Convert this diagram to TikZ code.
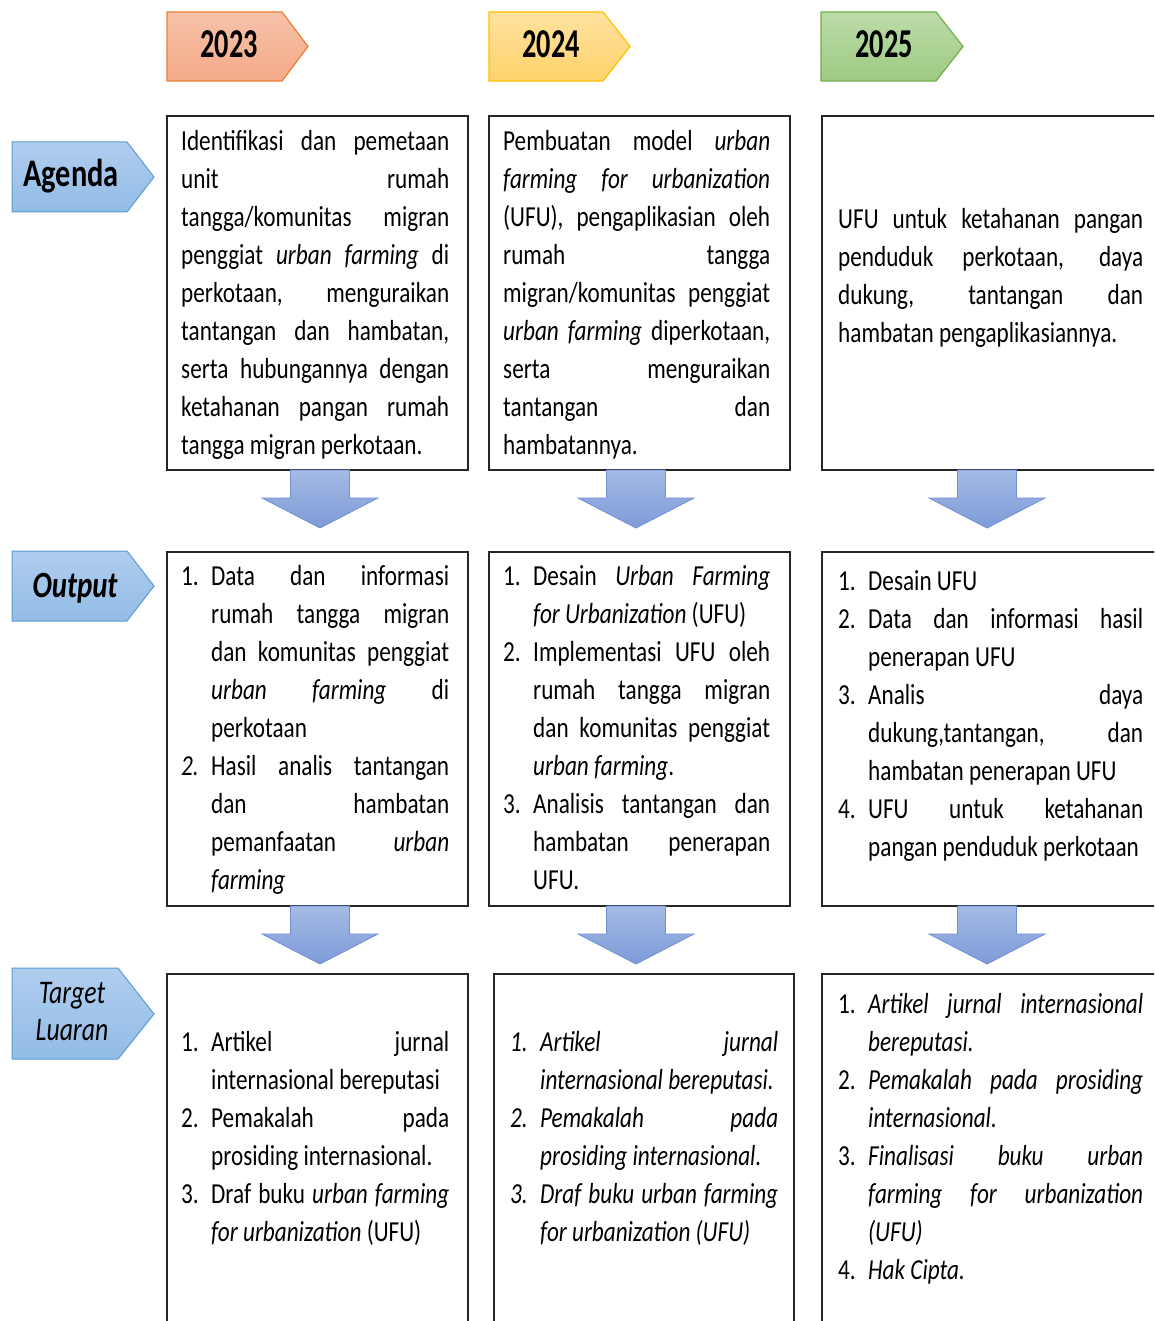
\documentclass[tikz,border=0pt]{standalone}
\usepackage{fontspec}
\setmainfont{Carlito}[FakeStretch=0.8]
\newfontfamily\yearfont{Carlito}[FakeStretch=0.69]
\newfontfamily\lblfont{Carlito}[FakeStretch=0.78]
\usetikzlibrary{calc}
\definecolor{oTop}{HTML}{F7C3AA}\definecolor{oBot}{HTML}{F4A987}\definecolor{oBrd}{HTML}{ED7D31}
\definecolor{yTop}{HTML}{FFE29F}\definecolor{yBot}{HTML}{FFD36B}\definecolor{yBrd}{HTML}{FFC000}
\definecolor{gTop}{HTML}{BCDBA9}\definecolor{gBot}{HTML}{9DCB83}\definecolor{gBrd}{HTML}{70AD47}
\definecolor{bTop}{HTML}{B0CDEE}\definecolor{bBot}{HTML}{92BCE6}\definecolor{bBrd}{HTML}{5B9BD5}
\definecolor{aTop}{HTML}{A5BBE6}\definecolor{aBot}{HTML}{7D9BD8}\definecolor{aBrd}{HTML}{6F90D2}
\definecolor{boxc}{HTML}{262626}
\newcommand\itm[2]{\noindent\hangindent=30pt\hangafter=1\makebox[30pt][l]{#1}#2\par}
\newcommand\blkarrow[2]{%
  \draw[arrowblk] (#1-29.5,#2) -- (#1+29.5,#2) -- (#1+29.5,#2+28) -- (#1+58,#2+28)
    -- (#1,#2+58) -- (#1-58,#2+28) -- (#1-29.5,#2+28) -- cycle;}
\begin{document}
\begin{tikzpicture}[x=1pt,y=-1pt,
  box/.style={draw=boxc, line width=1.6pt, fill=white, inner sep=0pt, anchor=north west},
  txt/.style={anchor=base west, inner sep=0pt, align=justify,
    font={\fontsize{29}{38}\selectfont\tolerance=10000\hbadness=10000\hyphenpenalty=10000\exhyphenpenalty=10000}},
  arrowblk/.style={draw=aBrd, line width=0.8pt, top color=aTop, bottom color=aBot},
  yearshape/.style={line width=1.2pt},
  lblshape/.style={draw=bBrd, line width=1pt, top color=bTop, bottom color=bBot},
  yeartxt/.style={anchor=base, inner sep=0pt, font={\yearfont\bfseries\fontsize{41}{41}\selectfont}},
]
\useasboundingbox (0,0) rectangle (1154,1321);
\clip (0,0) rectangle (1154,1321);
\fill[white] (0,0) rectangle (1154,1321);

% year headers
\draw[yearshape, draw=oBrd, top color=oTop, bottom color=oBot]
  (167,12) -- (282,12) -- (308,46.5) -- (282,81) -- (167,81) -- cycle;
\node[yeartxt] (y23) at (229,58) {2023};
\draw[yearshape, draw=yBrd, top color=yTop, bottom color=yBot]
  (489,12) -- (603,12) -- (630,46.5) -- (603,81) -- (489,81) -- cycle;
\node[yeartxt] (y24) at (551,58) {2024};
\draw[yearshape, draw=gBrd, top color=gTop, bottom color=gBot]
  (821,12) -- (936,12) -- (963,46.5) -- (936,81) -- (821,81) -- cycle;
\node[yeartxt] (y25) at (884,58) {2025};

% row labels
\draw[lblshape] (12,142) -- (127,142) -- (154,177) -- (127,212) -- (12,212) -- cycle;
\node[anchor=base, inner sep=0pt, font={\lblfont\bfseries\fontsize{39}{39}\selectfont}] (lagenda) at (71,187) {Agenda};
\draw[lblshape] (12,551) -- (127,551) -- (154,586) -- (127,621) -- (12,621) -- cycle;
\node[anchor=base, inner sep=0pt, font={\lblfont\bfseries\itshape\fontsize{37}{37}\selectfont}] (loutput) at (75,597) {Output};
\draw[lblshape] (12,968) -- (118,968) -- (154,1014) -- (118,1059) -- (12,1059) -- cycle;
\node[anchor=base, inner sep=0pt, text width=120pt, align=center, font={\lblfont\itshape\fontsize{33}{37}\selectfont}] (ltarget) at (72,1003) {Target\\Luaran};

% boxes
\node[box, minimum width=301pt, minimum height=354pt] (b11) at (166,115) {};
\node[box, minimum width=301pt, minimum height=354pt] (b12) at (488,115) {};
\node[box, minimum width=345pt, minimum height=354pt] (b13) at (821,115) {};
\node[box, minimum width=301pt, minimum height=354pt] (b21) at (166,551) {};
\node[box, minimum width=301pt, minimum height=354pt] (b22) at (488,551) {};
\node[box, minimum width=345pt, minimum height=354pt] (b23) at (821,551) {};
\node[box, minimum width=301pt, minimum height=360pt] (b31) at (166,973) {};
\node[box, minimum width=300pt, minimum height=360pt] (b32) at (493,973) {};
\node[box, minimum width=345pt, minimum height=360pt] (b33) at (821,973) {};

% block arrows
\blkarrow{320}{470}
\blkarrow{636}{470}
\blkarrow{987}{470}
\blkarrow{320}{906}
\blkarrow{636}{906}
\blkarrow{987}{906}

% row 1 texts
\node[txt, text width=268pt] (t11) at (181,151) {Identifikasi dan pemetaan\linebreak
unit rumah\linebreak
tangga/komunitas migran\linebreak
penggiat \textit{urban farming} di\linebreak
perkotaan, menguraikan\linebreak
tantangan dan hambatan,\linebreak
serta hubungannya dengan\linebreak
ketahanan pangan rumah\linebreak
tangga migran perkotaan.};

\node[txt, text width=267pt] (t12) at (503,151) {Pembuatan model \textit{urban}\linebreak
\textit{farming for urbanization}\linebreak
(UFU), pengaplikasian oleh\linebreak
rumah tangga\linebreak
migran/komunitas penggiat\linebreak
\textit{urban farming} diperkotaan,\linebreak
serta menguraikan\linebreak
tantangan dan\linebreak
hambatannya.};

\node[txt, text width=305pt] (t13) at (838,229) {UFU untuk ketahanan pangan\linebreak
penduduk perkotaan, daya\linebreak
dukung, tantangan dan\linebreak
hambatan pengaplikasiannya.};

% row 2 texts
\node[txt, text width=268pt] (t21) at (181,585) {%
\itm{1.}{Data dan informasi\linebreak rumah tangga migran\linebreak dan komunitas penggiat\linebreak \textit{urban farming} di\linebreak perkotaan}%
\itm{\textit{2.}}{Hasil analis tantangan\linebreak dan hambatan\linebreak pemanfaatan \textit{urban}\linebreak \textit{farming}}};

\node[txt, text width=267pt] (t22) at (503,585) {%
\itm{1.}{Desain \textit{Urban Farming}\linebreak \textit{for Urbanization} (UFU)}%
\itm{2.}{Implementasi UFU oleh\linebreak rumah tangga migran\linebreak dan komunitas penggiat\linebreak \textit{urban farming}.}%
\itm{3.}{Analisis tantangan dan\linebreak hambatan penerapan\linebreak UFU.}};

\node[txt, text width=305pt] (t23) at (838,590) {%
\itm{1.}{Desain UFU}%
\itm{2.}{Data dan informasi hasil\linebreak penerapan UFU}%
\itm{3.}{Analis daya\linebreak dukung,tantangan, dan\linebreak hambatan penerapan UFU}%
\itm{4.}{UFU untuk ketahanan\linebreak pangan penduduk perkotaan}};

% row 3 texts
\node[txt, text width=268pt] (t31) at (181,1051) {%
\itm{1.}{Artikel jurnal\linebreak internasional bereputasi}%
\itm{2.}{Pemakalah pada\linebreak prosiding internasional.}%
\itm{3.}{Draf buku \textit{urban farming}\linebreak \textit{for urbanization} (UFU)}};

\node[txt, text width=268pt, font={\fontsize{29}{38}\selectfont\itshape\tolerance=10000\hbadness=10000\hyphenpenalty=10000}] (t32) at (510,1051) {%
\itm{1.}{Artikel jurnal\linebreak internasional bereputasi.}%
\itm{2.}{Pemakalah pada\linebreak prosiding internasional.}%
\itm{3.}{Draf buku urban farming\linebreak for urbanization (UFU)}};

\node[txt, text width=305pt] (t33) at (838,1013) {%
\itm{1.}{\textit{Artikel jurnal internasional\linebreak bereputasi.}}%
\itm{2.}{\textit{Pemakalah pada prosiding\linebreak internasional.}}%
\itm{3.}{\textit{Finalisasi buku urban\linebreak farming for urbanization\linebreak (UFU)}}%
\itm{4.}{\textit{Hak Cipta.}}};
\end{tikzpicture}
\end{document}
